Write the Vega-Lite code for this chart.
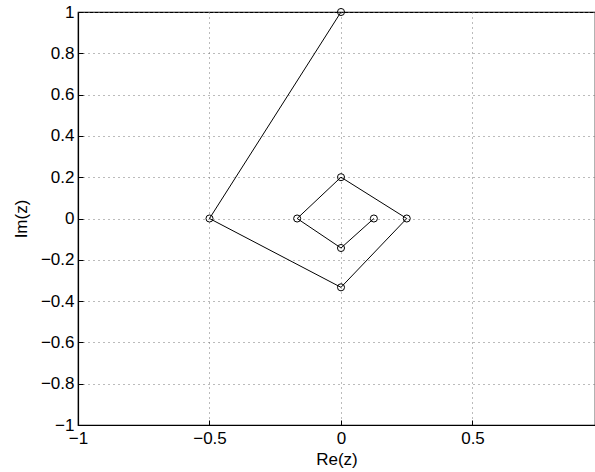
{
  "$schema": "https://vega.github.io/schema/vega-lite/v6.json",
  "width": 517,
  "height": 413,
  "autosize": {"type": "none"},
  "padding": {"left": 78, "top": 12, "right": 0, "bottom": 47},
  "background": "white",
  "config": {
    "view": {"stroke": "black", "strokeWidth": 1.2},
    "font": "Liberation Sans",
    "axis": {
      "labelFont": "Liberation Sans",
      "titleFont": "Liberation Sans",
      "labelFontSize": 17,
      "titleFontSize": 17,
      "titleFontWeight": "normal",
      "labelColor": "black",
      "titleColor": "black",
      "domainColor": "black",
      "domainWidth": 1.2,
      "tickColor": "black",
      "gridColor": "#777777",
      "gridDash": [1, 4],
      "gridWidth": 1
    }
  },
  "data": {
    "values": [
      {"n": 1, "re": 0, "im": 1},
      {"n": 2, "re": -0.5, "im": 0},
      {"n": 3, "re": 0, "im": -0.3333},
      {"n": 4, "re": 0.25, "im": 0},
      {"n": 5, "re": 0, "im": 0.2},
      {"n": 6, "re": -0.1667, "im": 0},
      {"n": 7, "re": 0, "im": -0.1429},
      {"n": 8, "re": 0.125, "im": 0}
    ]
  },
  "encoding": {
    "x": {
      "field": "re", "type": "quantitative",
      "scale": {"domain": [-1, 0.9658], "nice": false, "zero": false},
      "axis": {
        "title": "Re(z)", "values": [-1, -0.5, 0, 0.5], "format": ".1~f",
        "tickSize": -5, "labelPadding": 10, "titlePadding": 5, "labelFlush": false
      }
    },
    "y": {
      "field": "im", "type": "quantitative",
      "scale": {"domain": [-1, 1], "nice": false, "zero": false},
      "axis": {
        "title": "Im(z)", "values": [-1, -0.8, -0.6, -0.4, -0.2, 0, 0.2, 0.4, 0.6, 0.8, 1],
        "format": ".1~f", "tickSize": -5, "labelPadding": 9, "titlePadding": 10, "labelFlush": false
      }
    },
    "order": {"field": "n", "type": "quantitative"}
  },
  "layer": [
    {"mark": {"type": "line", "color": "black", "strokeWidth": 1}},
    {"mark": {"type": "point", "shape": "circle", "filled": false, "color": "black", "strokeWidth": 1, "size": 50, "opacity": 1}}
  ]
}
